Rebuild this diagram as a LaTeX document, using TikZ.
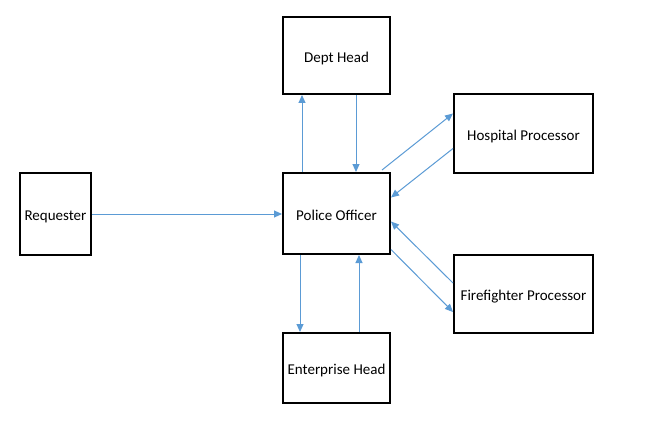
\documentclass[tikz,border=0pt]{standalone}
\usepackage{fontspec}
\setmainfont{Carlito}
\usetikzlibrary{arrows.meta}
\definecolor{arr}{RGB}{91,155,213}
\begin{document}
\begin{tikzpicture}[x=1pt,y=-1pt,
  box/.style={draw=black,line width=2pt,inner sep=0pt,text height=13.5pt,text depth=0pt,font=\fontsize{15pt}{17pt}\selectfont,text=black},
  conn/.style={draw=arr,line width=1pt,-{Triangle[length=8pt,width=7pt]}}]
\useasboundingbox[fill=white] (0,0) rectangle (650,433);
\node[box,minimum width=71pt,minimum height=82pt] (req) at (55.5,214) {Requester};
\node[box,minimum width=107pt,minimum height=81pt] (po) at (336.5,213.5) {Police Officer};
\node[box,minimum width=107pt,minimum height=77pt] (dh) at (336.5,55.5) {Dept Head};
\node[box,minimum width=107pt,minimum height=70pt] (eh) at (336.5,368) {Enterprise Head};
\node[box,minimum width=139pt,minimum height=79pt] (hp) at (523.5,133.5) {Hospital Processor};
\node[box,minimum width=139pt,minimum height=78pt] (ff) at (523.5,294) {Firefighter Processor};
\draw[conn] (req.east) -- (po.west |- req.east);
\draw[conn] ([xshift=20pt]po.north west) -- ([xshift=20pt]dh.south west);
\draw[conn] ([xshift=74pt]dh.south west) -- ([xshift=74pt]po.north west);
\draw[conn] ([xshift=18pt]po.south west) -- ([xshift=18pt]eh.north west);
\draw[conn] ([xshift=77pt]eh.north west) -- ([xshift=77pt]po.south west);
\draw[conn] ([xshift=100pt,yshift=2pt]po.north west) -- ([yshift=20pt]hp.west);
\draw[conn] ([yshift=-15pt]hp.west) -- ([yshift=16pt]po.east);
\draw[conn] ([yshift=11pt]ff.west) -- ([yshift=-8pt]po.east);
\draw[conn] ([yshift=-36pt]po.east) -- ([yshift=-18pt]ff.west);
\end{tikzpicture}
\end{document}
